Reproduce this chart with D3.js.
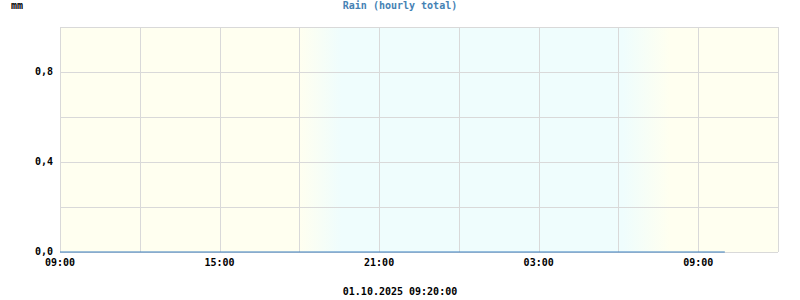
<!DOCTYPE html>
<html lang="en">
<head>
  <meta charset="UTF-8">
  <script src="https://cdn.jsdelivr.net/npm/d3@7"></script>
  <style>
    body { margin: 0; background: #fff; }
    text { font-family: "DejaVu Sans Mono", "Liberation Mono", monospace; font-size: 10px; font-weight: bold; }
    .grid line { stroke: #d9d9d9; stroke-width: 1; shape-rendering: crispEdges; }
  </style>
</head>
<body>
<svg></svg>
<script>
  // hourly rain totals (mm)
  var times = [
    "2025-09-30T09:00", "2025-09-30T10:00", "2025-09-30T11:00", "2025-09-30T12:00",
    "2025-09-30T13:00", "2025-09-30T14:00", "2025-09-30T15:00", "2025-09-30T16:00",
    "2025-09-30T17:00", "2025-09-30T18:00", "2025-09-30T19:00", "2025-09-30T20:00",
    "2025-09-30T21:00", "2025-09-30T22:00", "2025-09-30T23:00", "2025-10-01T00:00",
    "2025-10-01T01:00", "2025-10-01T02:00", "2025-10-01T03:00", "2025-10-01T04:00",
    "2025-10-01T05:00", "2025-10-01T06:00", "2025-10-01T07:00", "2025-10-01T08:00",
    "2025-10-01T09:00", "2025-10-01T10:00"
  ];
  var rain = [0, 0, 0, 0, 0, 0, 0, 0, 0, 0, 0, 0, 0, 0, 0, 0, 0, 0, 0, 0, 0, 0, 0, 0, 0, 0];

  // day / twilight / night bands
  var bandStops = ["2025-09-30T09:00", "2025-09-30T18:00", "2025-09-30T19:35", "2025-10-01T06:10", "2025-10-01T07:55", "2025-10-01T12:00"];
  var bandColors = ["#fffff0", "#fffff0", "#effdfd", "#effdfd", "#fffff0", "#fffff0"];

  var yTicks = [0, 0.2, 0.4, 0.6, 0.8, 1.0];
  var yLabels = ["0,0", "", "0,4", "", "0,8", ""];

  var title = "Rain (hourly total)";
  var unit = "mm";
  var stamp = "01.10.2025 09:20:00";

  var parse = d3.timeParse("%Y-%m-%dT%H:%M");
  var data = times.map(function(t, i) { return {t: parse(t), v: rain[i]}; });

  var margin = {top: 27, right: 22, bottom: 48, left: 60},
      width = 800 - margin.left - margin.right,
      height = 300 - margin.top - margin.bottom;

  var svg = d3.select("svg").attr("width", 800).attr("height", 300);

  var x = d3.scaleTime()
    .domain([parse("2025-09-30T09:00"), parse("2025-10-01T12:00")])
    .range([0, width]);
  var y = d3.scaleLinear().domain([0, 1]).range([height, 0]);

  var inner = svg.append("g")
    .attr("transform", "translate(" + margin.left + "," + margin.top + ")");

  // background gradient
  var grad = svg.append("defs").append("linearGradient")
    .attr("id", "bg").attr("x1", 0).attr("x2", 1).attr("y1", 0).attr("y2", 0);
  bandStops.forEach(function(s, i) {
    grad.append("stop")
      .attr("offset", x(parse(s)) / width)
      .attr("stop-color", bandColors[i]);
  });
  inner.append("rect")
    .attr("width", width).attr("height", height)
    .attr("fill", "url(#bg)");

  // grid
  var grid = inner.append("g").attr("class", "grid");
  grid.selectAll(".v")
    .data(x.ticks(d3.timeHour.every(3)))
    .enter().append("line")
    .attr("x1", function(d) { return Math.round(x(d)) + 0.5; })
    .attr("x2", function(d) { return Math.round(x(d)) + 0.5; })
    .attr("y1", 0).attr("y2", height);
  grid.selectAll(".h")
    .data(yTicks)
    .enter().append("line")
    .attr("x1", 0).attr("x2", width)
    .attr("y1", function(d) { return Math.round(y(d)) + 0.5; })
    .attr("y2", function(d) { return Math.round(y(d)) + 0.5; });
  grid.append("line")
    .attr("x1", Math.round(width) + 0.5).attr("x2", Math.round(width) + 0.5)
    .attr("y1", 0).attr("y2", height);

  // y labels
  inner.selectAll(".ylab")
    .data(yTicks)
    .enter().append("text")
    .attr("x", -7)
    .attr("y", function(d) { return y(d) + 3; })
    .attr("text-anchor", "end")
    .attr("fill", "#000")
    .text(function(d, i) { return yLabels[i]; });

  // x labels every 6 hours starting at 09:00
  var fmt = d3.timeFormat("%H:%M");
  var sixHours = d3.timeHour.filter(function(d) { return d.getHours() % 6 === 3; });
  inner.selectAll(".xlab")
    .data(x.ticks(sixHours).filter(function(d) { return x(d) < width - 20; }))
    .enter().append("text")
    .attr("x", function(d) { return x(d); })
    .attr("y", height + 14)
    .attr("text-anchor", "middle")
    .attr("fill", "#000")
    .text(function(d) { return fmt(d); });

  // rain line
  var line = d3.line()
    .x(function(d) { return x(d.t); })
    .y(function(d) { return y(d.v); });
  inner.append("path")
    .datum(data)
    .attr("fill", "none")
    .attr("stroke", "#3b7fc0")
    .attr("stroke-width", 1.2)
    .attr("d", line);

  // title, unit, timestamp
  svg.append("text")
    .attr("x", 400).attr("y", 9)
    .attr("text-anchor", "middle")
    .attr("fill", "#4682b4")
    .text(title);
  svg.append("text")
    .attr("x", 11).attr("y", 9)
    .attr("fill", "#000")
    .text(unit);
  svg.append("text")
    .attr("x", 400).attr("y", 295)
    .attr("text-anchor", "middle")
    .attr("fill", "#000")
    .text(stamp);
</script>
</body>
</html>
